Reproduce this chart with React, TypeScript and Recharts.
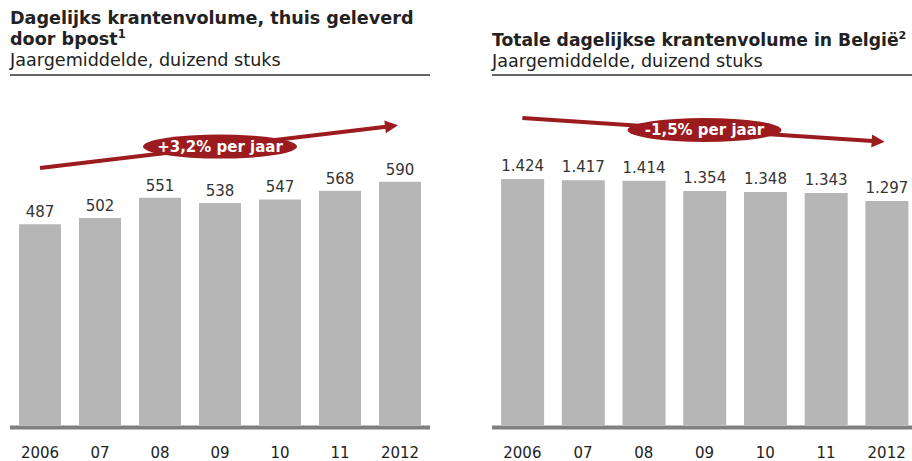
import { BarChart, Bar, XAxis, YAxis, LabelList, ReferenceLine } from 'recharts';

const years = ['2006', '07', '08', '09', '10', '11', '2012'];
const bpostVolume = [487, 502, 551, 538, 547, 568, 590];
const belgiumVolume = [1424, 1417, 1414, 1354, 1348, 1343, 1297];
const trendLabels = ['+3,2% per jaar', '-1,5% per jaar'];

const bpostData = years.map((year, i) => ({ year, value: bpostVolume[i] }));
const belgiumData = years.map((year, i) => ({ year, value: belgiumVolume[i] }));

const FONT = '"DejaVu Sans", Verdana, sans-serif';
const RED = '#9b1b1f';
const BAR = '#b6b6b6';
const AXIS = '#808080';

// dutch thousands separator
const fmt = (v: any) => String(v).replace(/\B(?=(\d{3})+(?!\d))/g, '.');

function trendShape(label: string) {
  return (props: any) => {
    const { x1, y1, x2, y2 } = props;
    const dx = x2 - x1;
    const dy = y2 - y1;
    const len = Math.hypot(dx, dy);
    const ux = dx / len;
    const uy = dy / len;
    const tipX = x2 - ux * 2;
    const tipY = y2 - uy * 2;
    const bx = tipX - ux * 13;
    const by = tipY - uy * 13;
    const px = -uy;
    const py = ux;
    const mx = (x1 + x2) / 2;
    const my = (y1 + y2) / 2;
    return (
      <g>
        <line x1={x1} y1={y1} x2={bx + ux} y2={by + uy} stroke={RED} strokeWidth={4} />
        <polygon
          points={`${tipX},${tipY} ${bx + px * 6.5},${by + py * 6.5} ${bx - px * 6.5},${by - py * 6.5}`}
          fill={RED}
        />
        <ellipse cx={mx} cy={my} rx={77} ry={12} fill={RED} />
        <text x={mx} y={my + 5.5} textAnchor="middle" fill="#fff" fontWeight="bold" fontSize={15} fontFamily={FONT}>
          {label}
        </text>
      </g>
    );
  };
}

const sup = (n: string) => (
  <span style={{ fontSize: '0.65em', verticalAlign: 'super', lineHeight: 0 }}>{n}</span>
);

export default function App() {
  const chartProps = { height: 461, margin: { top: 15, right: 10, bottom: 3.5, left: 10 }, barCategoryGap: '15%' };
  const axisProps = {
    dataKey: 'year',
    axisLine: { stroke: AXIS, strokeWidth: 4 },
    tickLine: false,
    tickSize: 0,
    tickMargin: 20,
    height: 30,
    tick: { fill: '#222', fontSize: 15, fontFamily: FONT },
    interval: 0,
  } as const;
  return (
    <div style={{ position: 'relative', width: 912, height: 461, overflow: 'hidden', background: '#fff', fontFamily: FONT, color: '#222' }}>
      <style>{`body{margin:0}`}</style>

      {/* left titles */}
      <div style={{ position: 'absolute', left: 10, top: 8, width: 440, fontSize: 17.6, lineHeight: '21px', whiteSpace: 'nowrap' }}>
        <div style={{ fontWeight: 'bold' }}>Dagelijks krantenvolume, thuis geleverd</div>
        <div style={{ fontWeight: 'bold' }}>door bpost{sup('1')}</div>
        <div>Jaargemiddelde, duizend stuks</div>
      </div>
      <div style={{ position: 'absolute', left: 10, top: 74, width: 420, height: 2, background: '#666' }} />

      {/* right titles */}
      <div style={{ position: 'absolute', left: 492, top: 30, width: 420, fontSize: 17.6, lineHeight: '21px', whiteSpace: 'nowrap' }}>
        <div style={{ fontWeight: 'bold', fontSize: 17.2 }}>Totale dagelijkse krantenvolume in België{sup('2')}</div>
        <div>Jaargemiddelde, duizend stuks</div>
      </div>
      <div style={{ position: 'absolute', left: 492, top: 74, width: 440, height: 2, background: '#666' }} />

      <div style={{ position: 'absolute', left: 0, top: 0 }}>
        <BarChart width={440} data={bpostData} {...chartProps}>
          <YAxis hide domain={[-6, 994]} allowDataOverflow />
          <XAxis {...axisProps} />
          <Bar dataKey="value" fill={BAR} isAnimationActive={false}>
            <LabelList dataKey="value" position="top" offset={7} fill="#333" fontSize={15} fontFamily={FONT} formatter={fmt} />
          </Bar>
          <ReferenceLine
            segment={[{ x: '2006', y: 623 }, { x: '2012', y: 727 }]}
            ifOverflow="visible"
            shape={trendShape(trendLabels[0])}
          />
        </BarChart>
      </div>

      <div style={{ position: 'absolute', left: 482, top: 0 }}>
        <BarChart width={445} data={belgiumData} {...chartProps}>
          <YAxis hide domain={[-14.5, 2373]} allowDataOverflow />
          <XAxis {...axisProps} />
          <Bar dataKey="value" fill={BAR} isAnimationActive={false}>
            <LabelList dataKey="value" position="top" offset={8} fill="#333" fontSize={15} fontFamily={FONT} formatter={fmt} />
          </Bar>
          <ReferenceLine
            segment={[{ x: '2006', y: 1777 }, { x: '2012', y: 1638 }]}
            ifOverflow="visible"
            shape={trendShape(trendLabels[1])}
          />
        </BarChart>
      </div>
    </div>
  );
}
